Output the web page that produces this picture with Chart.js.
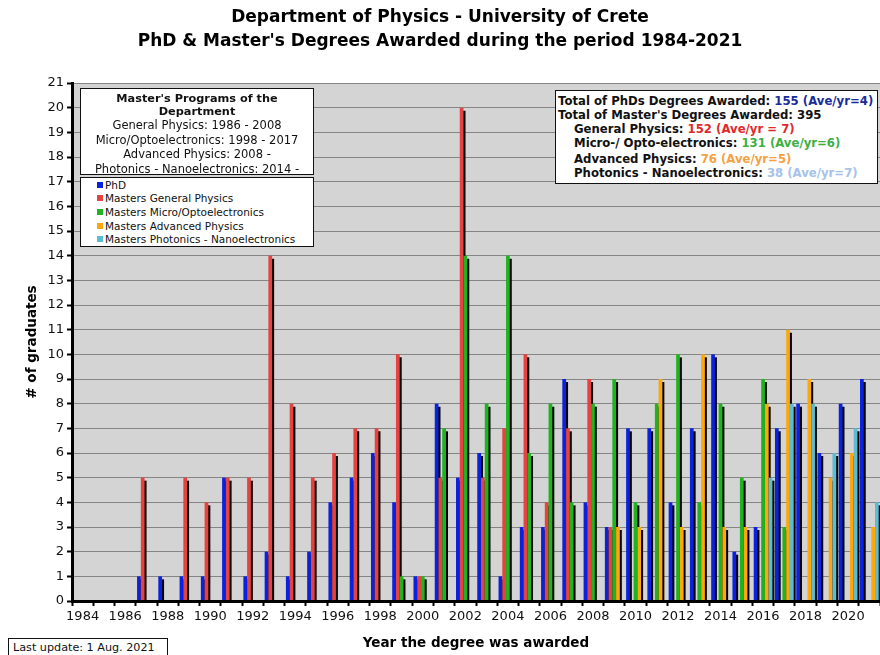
<!DOCTYPE html>
<html>
<head>
<meta charset="utf-8">
<script src="https://cdn.jsdelivr.net/npm/chart.js@4.4.0/dist/chart.umd.min.js"></script>
<style>
  body { margin: 0; background: #fff; }
  #wrap { position: relative; width: 880px; height: 655px; overflow: hidden; font-family: "DejaVu Sans", Verdana, sans-serif; }
  #c { position: absolute; left: 0; top: 0; }
  .box { position: absolute; background: #fff; border: 1.5px solid #111; box-sizing: border-box; color: #111; white-space: nowrap; }
  #programs { left: 80px; top: 88px; width: 234px; height: 87px; text-align: center; font-size: 11.5px; line-height: 14.5px; padding-top: 4px; }
  #programs .hd { font-weight: bold; font-size: 11.3px; line-height: 12.5px; }
  #legend { left: 80px; top: 177px; width: 234px; height: 70px; font-size: 10.5px; padding: 0.5px 0 0 16px; line-height: 13.7px; }
  #legend span.sw { display: inline-block; width: 6px; height: 6px; margin-right: 2px; vertical-align: 1px; }
  #totals { left: 555px; top: 90px; width: 323px; height: 94px; font-size: 11.7px; font-weight: bold; padding: 3px 0 0 2px; line-height: 14px; }
  #totals .in { padding-left: 16px; }
  #update { left: 8px; top: 638px; width: 160px; height: 24px; border-width: 1px; font-size: 11.2px; padding: 2px 0 0 4px; }
</style>
</head>
<body>
<div id="wrap">
  <canvas id="c" width="880" height="655"></canvas>
  <div class="box" id="programs">
    <div class="hd">Master's Programs of the</div>
    <div class="hd">Department</div>
    <div>General Physics: 1986 - 2008</div>
    <div>Micro/Optoelectronics: 1998 - 2017</div>
    <div>Advanced Physics: 2008 -</div>
    <div>Photonics - Nanoelectronics: 2014 -</div>
  </div>
  <div class="box" id="legend"></div>
  <div class="box" id="totals">
    <div>Total of PhDs Degrees Awarded: <span style="color:#1a2b9c">155 (Ave/yr=4)</span></div>
    <div>Total of Master's Degrees Awarded: 395</div>
    <div class="in">General Physics: <span style="color:#e02a2a">152 (Ave/yr = 7)</span></div>
    <div class="in">Micro-/ Opto-electronics: <span style="color:#3cb043">131 (Ave/yr=6)</span></div>
    <div class="in" style="margin-top:2px">Advanced Physics: <span style="color:#f5a142">76 (Ave/yr=5)</span></div>
    <div class="in">Photonics - Nanoelectronics: <span style="color:#a6c2ea">38 (Ave/yr=7)</span></div>
  </div>
  <div class="box" id="update">Last update: 1 Aug. 2021</div>
</div>
<script>
// years 1984 - 2021
var years = ['1984','1985','1986','1987','1988','1989','1990','1991','1992','1993',
             '1994','1995','1996','1997','1998','1999','2000','2001','2002','2003',
             '2004','2005','2006','2007','2008','2009','2010','2011','2012','2013',
             '2014','2015','2016','2017','2018','2019','2020','2021'];

var phd             = [0,0,0,1,1,1,1,5,1,2,1,2,4,5,6,4,1,8,5,6,1,3,3,9,4,3,7,7,4,7,10,2,3,7,8,6,8,9];
var generalPhysics  = [0,0,0,5,0,5,4,5,5,14,8,5,6,7,7,10,1,5,20,5,7,10,4,7,9,3,0,0,0,0,0,0,0,0,0,0,0,0];
var microOpto       = [0,0,0,0,0,0,0,0,0,0,0,0,0,0,0,1,1,7,14,8,14,6,8,4,8,9,4,8,10,4,8,5,9,3,0,0,0,0];
var advancedPhysics = [0,0,0,0,0,0,0,0,0,0,0,0,0,0,0,0,0,0,0,0,0,0,0,0,0,3,3,9,3,10,3,3,8,11,9,5,6,3];
var photonics       = [0,0,0,0,0,0,0,0,0,0,0,0,0,0,0,0,0,0,0,0,0,0,0,0,0,0,0,0,0,0,0,0,5,8,8,6,7,4];

var seriesNames  = ['PhD', 'Masters General Physics', 'Masters Micro/Optoelectronics',
                    'Masters Advanced Physics', 'Masters Photonics - Nanoelectronics'];
var seriesColors = ['#0a22dc', '#e5433f', '#1fb41f', '#fca80c', '#5cbcd4'];
var yMax = 21;

// legend box (html so it sits inside the plot like the original)
var leg = document.getElementById('legend');
seriesNames.forEach(function (n, i) {
    var d = document.createElement('div');
    d.innerHTML = '<span class="sw" style="background:' + seriesColors[i] + '"></span>' + n;
    leg.appendChild(d);
});

// grey plot background
var plotBg = {
    id: 'plotBg',
    beforeDraw: function (chart) {
        var a = chart.chartArea, ctx = chart.ctx;
        ctx.save();
        ctx.fillStyle = '#d4d4d4';
        ctx.fillRect(a.left, a.top, a.right - a.left, a.bottom - a.top);
        ctx.restore();
    }
};

// draw the bars series by series with a black drop shadow (the 3D look)
var shadowBars = {
    id: 'shadowBars',
    beforeDatasetsDraw: function (chart) {
        var a = chart.chartArea, ctx = chart.ctx;
        ctx.save();
        ctx.beginPath();
        ctx.rect(a.left, a.top, a.right - a.left, a.bottom - a.top);
        ctx.clip();
        ctx.shadowColor = '#000';
        ctx.shadowOffsetX = 2;
        ctx.shadowOffsetY = 3;
        ctx.shadowBlur = 0;
        for (var i = 0; i < chart.data.datasets.length; i++) {
            chart.getDatasetMeta(i).controller.draw();
        }
        ctx.restore();
        return false;
    }
};

var allSeries = [phd, generalPhysics, microOpto, advancedPhysics, photonics];

var chart = new Chart(document.getElementById('c').getContext('2d'), {
    type: 'bar',
    data: {
        labels: years,
        datasets: allSeries.map(function (s, i) {
            return {
                label: seriesNames[i],
                data: s,
                backgroundColor: seriesColors[i],
                borderWidth: 0,
                barPercentage: 1.0,
                categoryPercentage: 0.88
            };
        })
    },
    options: {
        responsive: false,
        animation: false,
        layout: { padding: 0 },
        plugins: {
            legend: { display: false },
            tooltip: { enabled: false },
            title: {
                display: true,
                text: ['Department of Physics - University of Crete',
                       "PhD & Master's Degrees Awarded during the period 1984-2021"],
                color: '#000',
                font: { family: 'DejaVu Sans', size: 17, weight: 'bold', lineHeight: 24 / 17 },
                padding: { top: 6, bottom: 29 }
            }
        },
        scales: {
            x: {
                grid: {
                    display: true,
                    drawOnChartArea: false,
                    drawTicks: true,
                    tickLength: 5,
                    tickColor: '#000',
                    tickWidth: 2,
                    offset: true,
                    z: 1
                },
                border: { display: true, color: '#000', width: 3, z: 1 },
                ticks: {
                    autoSkip: false,
                    maxRotation: 0,
                    padding: 3,
                    color: '#111',
                    font: { family: 'DejaVu Sans', size: 13 },
                    callback: function (v, i) { return i % 2 === 0 ? years[i] : ''; }
                },
                title: {
                    display: true,
                    text: 'Year the degree was awarded',
                    color: '#000',
                    font: { family: 'DejaVu Sans', size: 13.5, weight: 'bold' },
                    padding: { top: 0, bottom: 3 }
                },
                afterFit: function (s) { s.height = 54; }
            },
            y: {
                min: 0,
                max: yMax,
                grid: {
                    color: '#858585',
                    lineWidth: 1,
                    tickLength: 5,
                    tickColor: '#000',
                    tickWidth: 2
                },
                border: { display: true, color: '#000', width: 3 },
                ticks: {
                    stepSize: 1,
                    padding: 3,
                    color: '#111',
                    font: { family: 'DejaVu Sans', size: 13 }
                },
                title: {
                    display: true,
                    text: '# of graduates',
                    color: '#000',
                    font: { family: 'DejaVu Sans', size: 13.5, weight: 'bold' },
                    padding: { top: 24, bottom: 0 }
                },
                afterFit: function (s) { s.width = 72; }
            }
        }
    },
    plugins: [plotBg, shadowBars]
});
</script>
</body>
</html>
